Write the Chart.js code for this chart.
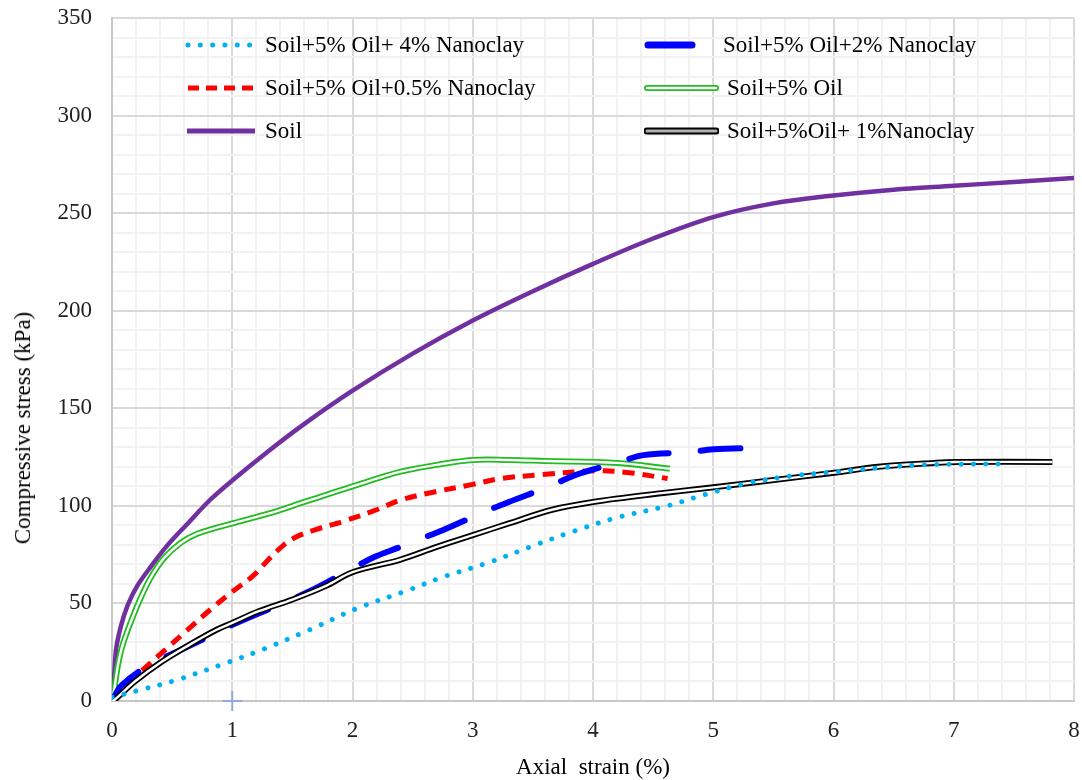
<!DOCTYPE html>
<html>
<head>
<meta charset="utf-8">
<script src="https://cdn.jsdelivr.net/npm/chart.js@4"></script>
<style>
  html, body { margin: 0; background: #fff; overflow: hidden; }
  #wrap { position: relative; width: 1082px; height: 780px; overflow: hidden; }
  #chart { display: block; }
  .item { position: absolute; display: flex; align-items: center; height: 28px;
          font: 23px 'Liberation Serif', 'Times New Roman', serif; color: #000; white-space: pre; }
  .item svg { margin-right: 8px; }
  #ytitle { position: absolute; left: 23px; top: 428px; transform: translate(-50%, -50%) rotate(-90deg);
            font: 23px 'Liberation Serif', 'Times New Roman', serif; color: #000; white-space: nowrap; }
</style>
</head>
<body>
<div id="wrap">
  <canvas id="chart" width="1082" height="780"></canvas>
  <div id="legend"></div>
  <div id="ytitle">Compressive stress (kPa)</div>
</div>
<script>
// axial strain (%) / compressive stress (kPa)
const soilStrain = [0, 0.01, 0.02, 0.035, 0.077, 0.13, 0.21, 0.325, 0.45, 0.63, 0.815, 1.0, 1.3, 1.6, 2.0, 2.5, 3.0, 3.5, 4.0, 4.5, 5.0, 5.5, 6.0, 6.5, 7.0, 7.5, 8.0];
const soilStress = [0, 3, 15, 27, 39, 49, 59, 69, 79, 91, 103, 113, 128, 142, 159, 178, 195, 210, 224, 237, 248, 255, 259, 262, 264, 266, 268];

const oilStrain = [0, 0.02, 0.05, 0.09, 0.16, 0.24, 0.32, 0.43, 0.57, 0.7, 0.85, 1.0, 1.3, 1.6, 2.0, 2.4, 2.7, 3.0, 3.3, 3.6, 4.2, 4.64];
const oilStress = [0, 6.5, 18.5, 29, 41, 53, 63, 73, 81, 85.5, 88.5, 91, 96, 102, 110, 117.5, 121, 123.5, 123.5, 123, 122, 119];

const nano05Strain = [0, 0.05, 0.24, 0.43, 0.62, 0.84, 1.0, 1.17, 1.31, 1.42, 1.53, 1.7, 1.92, 2.2, 2.4, 2.67, 3.0, 3.23, 3.58, 4.03, 4.3, 4.62];
const nano05Stress = [2, 4, 15, 25.5, 36, 48, 56, 64, 73, 79.5, 84, 88, 92, 98, 103, 107, 111, 114, 116, 118, 117, 114];

const nano2Strain = [0, 0.08, 0.3, 0.6, 0.87, 1.0, 1.3, 1.67, 2.0, 2.19, 2.4, 2.56, 2.75, 3.1, 3.3, 3.66, 3.84, 4.22, 4.42, 4.8, 5.0, 5.4];
const nano2Stress = [0, 8, 18, 27, 35, 39, 47, 57, 68, 74, 79, 83, 87.5, 97, 102, 110.5, 115.5, 122.5, 126, 127.5, 129, 129.7];

const nano1Strain = [0, 0.02, 0.19, 0.41, 0.65, 0.87, 1.0, 1.22, 1.5, 1.78, 2.0, 2.4, 2.7, 3.0, 3.3, 3.66, 4.0, 4.57, 5.0, 5.47, 6.01, 6.37, 6.84, 7.02, 7.82];
const nano1Stress = [0, 0.5, 10, 20, 29, 36.5, 40, 46, 52, 59, 66, 72.5, 79, 85, 91, 98, 102, 106.5, 109.5, 113, 117, 120, 122, 122.5, 122.5];

const nano4Strain = [0, 0.23, 0.55, 0.95, 1.25, 1.64, 2.04, 2.45, 2.76, 3.12, 3.48, 3.84, 4.2, 4.62, 4.92, 5.29, 5.65, 6.01, 6.37, 6.73, 7.4];
const nano4Stress = [2, 5.6, 11, 19.5, 26.3, 36.4, 47.5, 56.5, 63.7, 70.7, 79, 87, 94, 100, 105.6, 111.7, 115.3, 117.4, 119.4, 121, 121.5];

const markStrain = [1];
const markStress = [0];

const xTickLabels = ['0', '1', '2', '3', '4', '5', '6', '7', '8'];
const yTickLabels = ['0', '50', '100', '150', '200', '250', '300', '350'];

const seriesNames = [
  'Soil+5% Oil+ 4% Nanoclay', 'Soil+5% Oil+2% Nanoclay',
  'Soil+5% Oil+0.5% Nanoclay', 'Soil+5% Oil',
  'Soil', 'Soil+5%Oil+ 1%Nanoclay'
];

const pts = (xs, ys) => xs.map((x, i) => ({ x: x, y: ys[i] }));

const FONT = "'Liberation Serif', 'Times New Roman', serif";
Chart.defaults.font.family = FONT;
Chart.defaults.font.size = 23;
Chart.defaults.color = '#222';

const base = { pointRadius: 0, borderCapStyle: 'butt', tension: 0.35, fill: false };

const datasets = [
  { ...base, label: seriesNames[4], data: pts(soilStrain, soilStress), borderColor: '#7030a0', borderWidth: 4.5, order: 10 },
  { ...base, label: seriesNames[3], data: pts(oilStrain, oilStress), borderColor: '#22bb22', borderWidth: 6, order: 9 },
  { ...base, label: 'oil-inner', data: pts(oilStrain, oilStress), borderColor: '#ffffff', borderWidth: 2.4, order: 8 },
  { ...base, label: seriesNames[2], data: pts(nano05Strain, nano05Stress), borderColor: '#ff0000', borderWidth: 5, borderDash: [12, 8], order: 7 },
  { ...base, label: seriesNames[1], data: pts(nano2Strain, nano2Stress), borderColor: '#0000ff', borderWidth: 6, borderDash: [40, 32], borderCapStyle: 'round', order: 6 },
  { ...base, label: seriesNames[5], data: pts(nano1Strain, nano1Stress), borderColor: '#000000', borderWidth: 6, order: 5 },
  { ...base, label: 'nano1-inner', data: pts(nano1Strain, nano1Stress), borderColor: '#ffffff', borderWidth: 2.4, order: 4 },
  { ...base, label: seriesNames[0], data: pts(nano4Strain, nano4Stress), borderColor: '#00b0f0', borderWidth: 5, borderDash: [0.01, 12.3], borderCapStyle: 'round', order: 3 },
  { label: 'mark', data: pts(markStrain, markStress), showLine: false, pointStyle: 'cross', pointRadius: 10, borderColor: '#8faadc', borderWidth: 2, clip: false, order: 1 }
];

const isWhole = (v, step) => Math.abs(v / step - Math.round(v / step)) < 1e-6;

new Chart(document.getElementById('chart'), {
  type: 'line',
  data: { datasets },
  options: {
    responsive: false,
    animation: false,
    layout: { autoPadding: false, padding: { left: 0, right: 8, top: 18, bottom: 0 } },
    plugins: { legend: { display: false }, tooltip: { enabled: false } },
    scales: {
      x: {
        type: 'linear', min: 0, max: 8,
        afterFit: s => { s.height = 79; s.paddingLeft = 0; s.paddingRight = 0; },
        ticks: {
          stepSize: 0.2, autoSkip: false, maxRotation: 0, padding: 16,
          callback: v => isWhole(v, 1) ? xTickLabels[Math.round(v)] : ''
        },
        grid: {
          drawTicks: false, lineWidth: 2,
          color: c => isWhole(c.tick.value, 1) ? '#d9d9d9' : '#f2f2f2'
        },
        border: { color: '#c8c8c8', width: 2 },
        title: { display: true, text: 'Axial  strain (%)', font: { size: 23, lineHeight: 1 }, padding: { top: 0, bottom: 1 }, color: '#000' }
      },
      y: {
        min: 0, max: 350,
        afterFit: s => { s.width = 112; s.paddingTop = 0; s.paddingBottom = 0; },
        ticks: {
          stepSize: 10, autoSkip: false, padding: 20,
          callback: v => isWhole(v, 50) ? yTickLabels[Math.round(v / 50)] : ''
        },
        grid: {
          drawTicks: false, lineWidth: 2,
          color: c => isWhole(c.tick.value, 50) ? '#d9d9d9' : '#f2f2f2'
        },
        border: { color: '#c8c8c8', width: 2 }
      }
    }
  }
});

// legend drawn as html, two columns like the original
const swatches = [
  '<line x1="3" y1="7" x2="68" y2="7" stroke="#00b0f0" stroke-width="5" stroke-linecap="round" stroke-dasharray="0.01 12.3"/>',
  '<line x1="4" y1="7" x2="48" y2="7" stroke="#0000ff" stroke-width="7" stroke-linecap="round"/>',
  '<line x1="3" y1="7" x2="70" y2="7" stroke="#ff0000" stroke-width="5" stroke-dasharray="11 7"/>',
  '<line x1="3" y1="7" x2="72" y2="7" stroke="#22bb22" stroke-width="6" stroke-linecap="round"/><line x1="3" y1="7" x2="72" y2="7" stroke="#fff" stroke-width="2.4" stroke-linecap="round"/>',
  '<line x1="2" y1="7" x2="70" y2="7" stroke="#7030a0" stroke-width="5"/>',
  '<line x1="3" y1="7" x2="72" y2="7" stroke="#000" stroke-width="7" stroke-linecap="round"/><line x1="3" y1="7" x2="72" y2="7" stroke="#b0b0b0" stroke-width="3" stroke-linecap="round"/>'
];
const legendLeft = [185, 644];
const legendRowY = [45, 88, 131];
const legend = document.getElementById('legend');
seriesNames.forEach((name, i) => {
  const col = i % 2, row = Math.floor(i / 2);
  const div = document.createElement('div');
  div.className = 'item';
  div.style.left = legendLeft[col] + 'px';
  div.style.top = (legendRowY[row] - 14) + 'px';
  const w = col === 1 ? 75 : 72;
  div.innerHTML = `<svg width="${w}" height="14">${swatches[i]}</svg><span>${name}</span>`;
  if (i === 1) div.querySelector('svg').style.marginRight = '4px';
  legend.appendChild(div);
});
</script>
</body>
</html>
